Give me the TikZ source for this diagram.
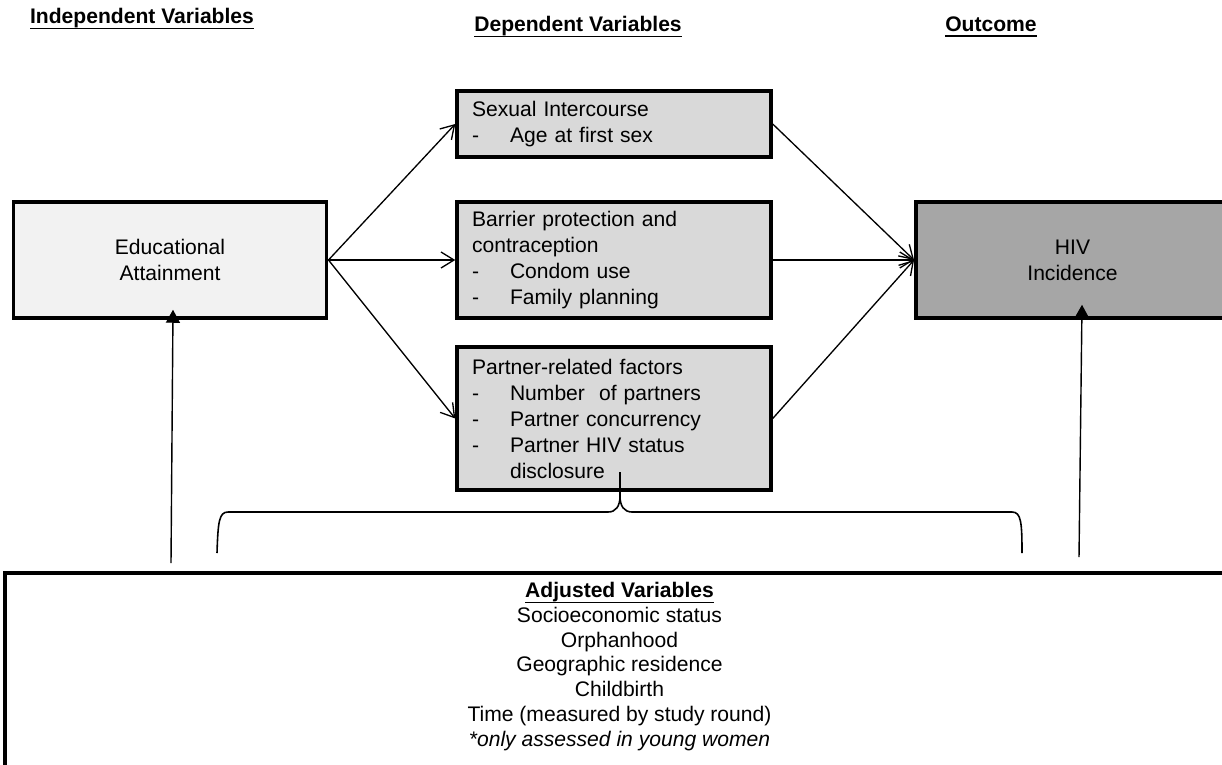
\documentclass[tikz,border=0pt]{standalone}
\usepackage{fontspec}
\setmainfont{Liberation Sans}
\usepackage{tikz}
\usetikzlibrary{arrows.meta,positioning}

\definecolor{eduGray}{HTML}{F2F2F2}
\definecolor{depGray}{HTML}{D9D9D9}
\definecolor{hivGray}{HTML}{A6A6A6}
\newcommand{\itm}[1]{\makebox[0.76cm][l]{-}#1}
\newcommand{\head}[1]{\leavevmode\setbox0\hbox{\textbf{#1}}\rlap{\rule[-3.2pt]{\wd0}{1.1pt}}\box0}

\begin{document}
\begin{tikzpicture}[x=0.02cm,y=-0.02cm]
          %% CADRE CONCEPTUEL

          \tikzstyle{every node}=[font=\fontsize{12}{14.8}\selectfont]
          \tikzstyle{bigbox}=[draw,line width=2pt,inner sep=0pt,minimum width=6.27cm,minimum height=2.32cm,align=center]
          \tikzstyle{depbox}=[draw,line width=2pt,fill=depGray,inner xsep=0.3cm,inner ysep=0pt,text width=5.68cm,minimum width=6.28cm,align=left]
          \tikzstyle{path}=[line width=0.75pt,-{Straight Barb[length=2.6mm,width=3.2mm,line width=0.75pt]}]
          \tikzstyle{uparrow}=[line width=0.8pt,-{Triangle[length=2.6mm,width=2.8mm]}]
          \tikzstyle{brace}=[line width=0.9pt]

          \clip (0,0) rectangle (1222,764);

          % titres des colonnes
          \node (T1) at (142,19) {\head{Independent Variables}};
          \node (T2) at (578,27) {\head{Dependent Variables}};
          \node (T3) at (991,27) {\head{Outcome}};

          % variable independante
          \node[bigbox,fill=eduGray] (E1) at (170,260) {Educational\\Attainment};

          % variables dependantes
          \node[depbox,minimum height=1.32cm] (D1) at (614,124) {Sexual Intercourse\\\itm{Age at first sex}};
          \node[depbox,minimum height=2.32cm] (D2) at (614,260) {Barrier protection and\\contraception\\\itm{Condom use}\\\itm{Family planning}};
          \node[depbox,minimum height=2.86cm] (D3) at (614,418.5) {Partner-related factors\\\itm{Number\ \ of partners}\\\itm{Partner concurrency}\\\itm{Partner HIV status}\\\hspace*{0.76cm}disclosure};

          % resultat
          \node[bigbox,fill=hivGray] (H1) at (1072.5,260) {HIV\\Incidence};

          % variables d'ajustement
          \node[draw,line width=2pt,minimum width=24.58cm,minimum height=4.6cm,anchor=north] (A1) at (619.5,571) {};
          \node[align=center,font=\fontsize{12}{14.06}\selectfont] (A2) at (619.5,666.5) {\head{Adjusted Variables}\\Socioeconomic status\\Orphanhood\\Geographic residence\\Childbirth\\Time (measured by study round)\\\textit{*only assessed in young women}};

          % fleches
          \draw[path] (E1.east) -- (D1.west);
          \draw[path] (E1.east) -- (D2.west);
          \draw[path] (E1.east) -- (D3.west);
          \draw[path] (D1.east) -- (H1.west);
          \draw[path] (D2.east) -- (H1.west);
          \draw[path] (D3.east) -- (H1.west);

          \coordinate (L1) at (171,563);
          \coordinate (R1) at (1079,557);
          \draw[uparrow] (L1) -- ([xshift=0.06cm,yshift=0.2cm]E1.south);
          \draw[uparrow] (R1) -- ([xshift=0.19cm,yshift=0.3cm]H1.south);

          % accolade
          \coordinate (B0) at (620,472);
          \draw[brace] (217,553) .. controls (218,522) and (219,512) .. (228,512) -- (608,512)
                .. controls (616,512) and (620,506) .. (620,496) -- (B0);
          \draw[brace] (620,496) .. controls (620,506) and (624,512) .. (632,512) -- (1012,512)
                .. controls (1021,512) and (1022,522) .. (1022,553);
\end{tikzpicture}
\end{document}
